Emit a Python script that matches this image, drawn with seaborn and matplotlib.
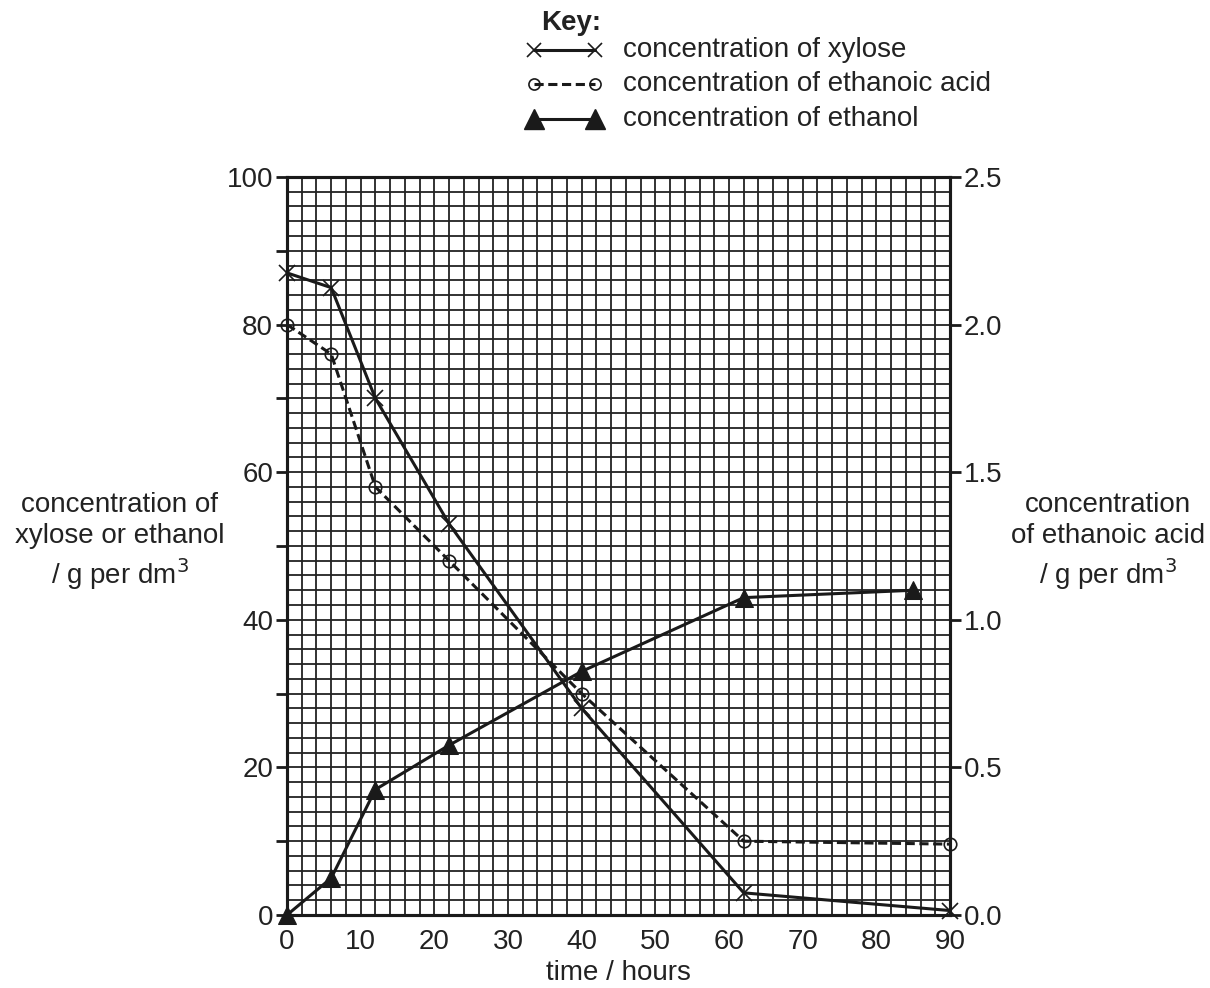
import matplotlib
matplotlib.use("Agg")
import matplotlib.pyplot as plt
import seaborn as sns
import pandas as pd
import numpy as np
from matplotlib.lines import Line2D

sns.set_style("white")
plt.rcParams['font.family'] = ['Liberation Sans', 'DejaVu Sans']

xylose_t = [0, 6, 12, 22, 40, 62, 90]
xylose_c = [87, 85, 70, 53, 28, 3, 0.6]
acid_t = [0, 6, 12, 22, 40, 62, 90]
acid_c = [2.0, 1.9, 1.45, 1.2, 0.75, 0.25, 0.24]
ethanol_t = [0, 6, 12, 22, 40, 62, 85]
ethanol_c = [0, 5, 17, 23, 33, 43, 44]

INK = '#1a1a1a'

fig = plt.figure(figsize=(12.1, 9.88), dpi=100)
ax = fig.add_axes([0.2372, 0.0739, 0.5479, 0.7470])
ax2 = ax.twinx()
ax2.grid(False)

ax.set_xlim(0, 90)
ax.set_ylim(0, 100)
ax2.set_ylim(0, 2.5)

ax.set_xticks(np.arange(0, 91, 10))
ax.set_yticks(np.arange(0, 101, 10))
ax.set_xticks(np.arange(0, 91, 2), minor=True)
ax.set_yticks(np.arange(0, 101, 2), minor=True)
ax.grid(which='both', color='#222222', linewidth=1.3)
ax.set_axisbelow(True)
ax.tick_params(which='minor', length=0)

df_x = pd.DataFrame({'t': xylose_t, 'c': xylose_c})
df_e = pd.DataFrame({'t': ethanol_t, 'c': ethanol_c})
df_a = pd.DataFrame({'t': acid_t, 'c': acid_c})

sns.lineplot(data=df_x, x='t', y='c', ax=ax, color=INK, linewidth=2.2,
             marker='x', markersize=11, markeredgewidth=1.2, markeredgecolor=INK,
             zorder=5, clip_on=False)
sns.lineplot(data=df_e, x='t', y='c', ax=ax, color=INK, linewidth=2.2,
             marker='^', markersize=13, markeredgecolor=INK, markerfacecolor=INK,
             zorder=5, clip_on=False)
sns.lineplot(data=df_a, x='t', y='c', ax=ax2, color=INK, linewidth=2.2,
             linestyle=(0, (3, 1.5)), marker='o', markersize=9, markerfacecolor='none',
             markeredgecolor=INK, markeredgewidth=1.2, zorder=5, clip_on=False)

ax.set_xlabel('time / hours', fontsize=20, labelpad=4, color='#222222')
ax.set_ylabel('')
ax2.set_ylabel('')

ax.set_yticklabels([str(v) if v % 20 == 0 else '' for v in range(0, 101, 10)])
ax2.set_yticks(np.arange(0, 2.51, 0.5))
ax2.set_yticklabels(['0.0', '0.5', '1.0', '1.5', '2.0', '2.5'])

for a in (ax, ax2):
    a.tick_params(which='major', length=8, width=2, color=INK, labelsize=20,
                  labelcolor='#222222', pad=2)
    for s in a.spines.values():
        s.set_color(INK)
        s.set_linewidth(2.2)

fig.text(0.099, 0.451, 'concentration of\nxylose or ethanol\n/ g per dm$^3$', ha='center',
         va='center', fontsize=20, color='#222222', linespacing=1.25)
fig.text(0.916, 0.451, 'concentration\nof ethanoic acid\n/ g per dm$^3$', ha='center',
         va='center', fontsize=20, color='#222222', linespacing=1.25)

# key
fig.text(0.447, 0.977, 'Key:', fontsize=20, fontweight='bold', va='center', color='#222222')
rows = [0.949, 0.915, 0.880]
labels = ['concentration of xylose', 'concentration of ethanoic acid', 'concentration of ethanol']
styles = [dict(ls='-', marker='x', ms=10, mew=1.2, mfc=INK, mec=INK),
          dict(ls=(0, (3, 1.5)), marker='o', ms=8, mfc='none', mew=1.2, mec=INK),
          dict(ls='-', marker='^', ms=14, mfc=INK, mec=INK)]
for y, lab, st in zip(rows, labels, styles):
    fig.add_artist(Line2D([0.441, 0.492], [y, y], transform=fig.transFigure,
                          color=INK, lw=2.2, **st))
    fig.text(0.515, y, lab, fontsize=20, va='center', color='#222222')

fig.savefig('out.png', dpi=100)
